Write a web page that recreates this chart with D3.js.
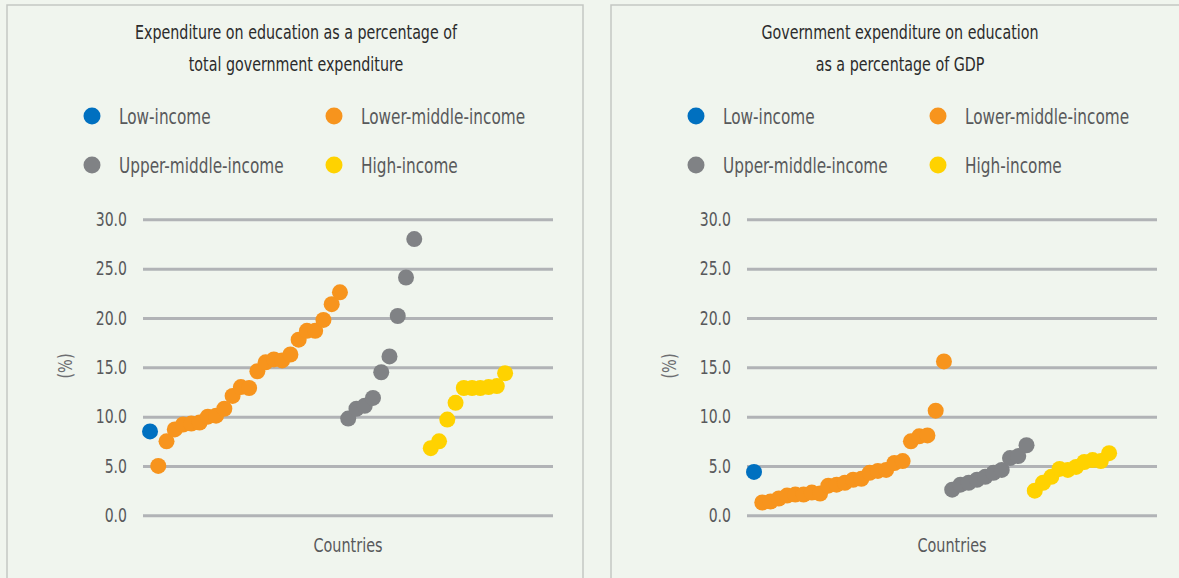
<!DOCTYPE html>
<html>
<head>
<meta charset="utf-8">
<script src="https://cdn.jsdelivr.net/npm/d3@7"></script>
<style>
  html, body { margin: 0; padding: 0; background: #f0f5ee; }
  svg { display: block; }
  text { font-family: "Liberation Sans Narrow", "DejaVu Sans Condensed", "Roboto", sans-serif; }
</style>
</head>
<body>
<svg id="chart" width="1179" height="578"></svg>
<script>
// ---- data ----
const seriesNames = ["Low-income", "Lower-middle-income", "Upper-middle-income", "High-income"];
const seriesColors = ["#0070c0", "#f7941d", "#808285", "#ffd200"];
const yTicks = [0, 5, 10, 15, 20, 25, 30];

const titleLeft = ["Expenditure on education as a percentage of", "total government expenditure"];
const lowLeft = [8.5];
const lowerMidLeft = [5.0, 7.5, 8.7, 9.2, 9.3, 9.4, 10.0, 10.1, 10.8, 12.1, 13.0, 12.9, 14.6, 15.5, 15.8, 15.7, 16.3, 17.8, 18.7, 18.7, 19.8, 21.4, 22.6];
const upperMidLeft = [9.8, 10.8, 11.1, 11.9, 14.5, 16.1, 20.2, 24.1, 28.0, null];
const highLeft = [6.8, 7.5, 9.7, 11.4, 12.9, 12.9, 12.9, 13.0, 13.1, 14.4];

const titleRight = ["Government expenditure on education", "as a percentage of GDP"];
const lowRight = [4.4];
const lowerMidRight = [1.3, 1.4, 1.7, 2.0, 2.1, 2.1, 2.3, 2.2, 3.0, 3.1, 3.3, 3.6, 3.7, 4.3, 4.5, 4.6, 5.3, 5.5, 7.5, 8.0, 8.1, 10.6, 15.6];
const upperMidRight = [2.6, 3.1, 3.3, 3.6, 3.9, 4.3, 4.6, 5.8, 6.0, 7.1];
const highRight = [2.5, 3.3, 3.9, 4.7, 4.6, 4.9, 5.4, 5.6, 5.5, 6.3];

const svg = d3.select("#chart");

// condense text horizontally to mimic a condensed typeface
function condense(sel, factor) {
  sel.each(function () {
    const w = this.getComputedTextLength();
    d3.select(this).attr("textLength", w * factor).attr("lengthAdjust", "spacingAndGlyphs");
  });
}

function drawPanel(ox, title, groups) {
  const g = svg.append("g").attr("transform", `translate(${ox},0)`);
  // panel border
  g.append("rect").attr("x", 7).attr("y", 5).attr("width", 576).attr("height", 600)
    .attr("fill", "none").attr("stroke", "#c4c7c3").attr("stroke-width", 1.5);

  // title
  title.forEach((t, i) => {
    g.append("text").attr("x", 296).attr("y", 39 + i * 32).attr("text-anchor", "middle")
      .attr("font-size", 19).attr("fill", "#2b2b2b").text(t).call(condense, 0.835);
  });

  // legend
  const legPos = [[92, 116], [334, 116], [92, 165], [334, 165]];
  seriesNames.forEach((n, i) => {
    const [lx, ly] = legPos[i];
    g.append("circle").attr("cx", lx).attr("cy", ly).attr("r", 8.5).attr("fill", seriesColors[i]);
    g.append("text").attr("x", lx + 27).attr("y", ly + 7.5).attr("font-size", 21)
      .attr("fill", "#58595b").text(n).call(condense, 0.81);
  });

  // flatten groups into index slots
  const pts = [];
  let idx = 0;
  groups.forEach((arr, gi) => {
    arr.forEach(v => {
      if (v !== null) pts.push({ i: idx, v: v, c: seriesColors[gi] });
      idx++;
    });
  });

  const x = d3.scaleLinear().domain([-0.85, 48.8]).range([143, 553]);
  const y = d3.scaleLinear().domain([0, 30]).range([515.3, 219.3]);

  const yAxis = d3.axisLeft(y).tickValues(yTicks).tickFormat(d3.format(".1f"))
    .tickSize(-(553 - 143)).tickPadding(16);
  const ax = g.append("g").attr("transform", "translate(143,0)").call(yAxis);
  ax.select(".domain").remove();
  ax.selectAll(".tick line").attr("stroke", "#b1b3b6").attr("stroke-width", 3);
  ax.selectAll(".tick text").attr("font-size", 19.5).attr("fill", "#58595b")
    .attr("font-family", "'Liberation Sans Narrow', 'DejaVu Sans Condensed', sans-serif")
    .call(condense, 0.8);

  // axis titles
  g.append("text").attr("transform", "translate(72,366) rotate(-90)").attr("text-anchor", "middle")
    .attr("font-size", 19).attr("fill", "#6d6e71").text("(%)").call(condense, 0.85);
  g.append("text").attr("x", 348).attr("y", 552).attr("text-anchor", "middle")
    .attr("font-size", 20).attr("fill", "#58595b").text("Countries").call(condense, 0.8);

  g.append("g").selectAll("circle").data(pts).join("circle")
    .attr("cx", d => x(d.i)).attr("cy", d => y(d.v)).attr("r", 8).attr("fill", d => d.c);
}

drawPanel(0, titleLeft, [lowLeft, lowerMidLeft, upperMidLeft, highLeft]);
drawPanel(604, titleRight, [lowRight, lowerMidRight, upperMidRight, highRight]);
</script>
</body>
</html>
